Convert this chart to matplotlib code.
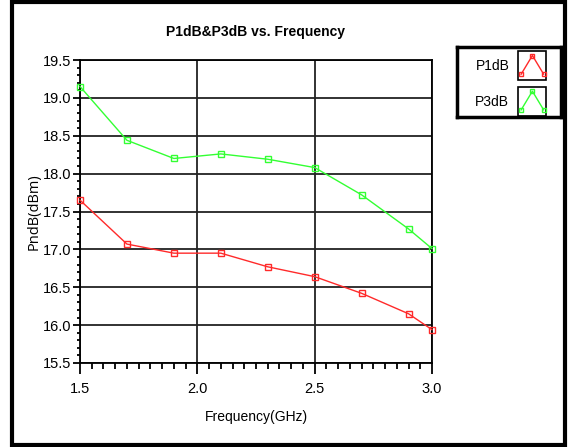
import numpy as np
import matplotlib
matplotlib.use('Agg')
import matplotlib.pyplot as plt
from matplotlib.patches import Rectangle
from matplotlib.ticker import MultipleLocator

# Data
freq = [1.5, 1.7, 1.9, 2.1, 2.3, 2.5, 2.7, 2.9, 3.0]
p1db = [17.65, 17.07, 16.95, 16.95, 16.77, 16.64, 16.42, 16.15, 15.94]
p3db = [19.15, 18.44, 18.20, 18.26, 18.19, 18.08, 17.72, 17.27, 17.01]
names = ['P1dB', 'P3dB']
colors = ['#ff2a2a', '#33ff33']
xticks = [1.5, 2.0, 2.5, 3.0]
yticks = [15.5, 16.0, 16.5, 17.0, 17.5, 18.0, 18.5, 19.0, 19.5]

plt.rcParams['font.family'] = ['Liberation Sans', 'DejaVu Sans']
fig = plt.figure(figsize=(5.69, 4.47), dpi=100)

# outer frame
fig.patches.append(Rectangle((12/569, 2/447), 553/569, 443/447, transform=fig.transFigure,
                             fill=False, edgecolor='black', linewidth=3))

ax = fig.add_axes([80/569, (447-363)/447, 352/569, 303/447])
for ys, c, n in zip([p1db, p3db], colors, names):
    ax.plot(freq, ys, color=c, linewidth=1, marker='s', markersize=4.5,
            markerfacecolor='none', markeredgecolor=c, markeredgewidth=1, label=n, clip_on=False, zorder=3)

ax.set_xlim(1.5, 3.0)
ax.set_ylim(15.5, 19.5)
ax.set_xticks(xticks)
ax.set_yticks(yticks)
ax.set_xticklabels(['%.1f' % v for v in xticks])
ax.set_yticklabels(['%.1f' % v for v in yticks])
ax.xaxis.set_minor_locator(MultipleLocator(0.05))
ax.yaxis.set_minor_locator(MultipleLocator(0.1))
ax.tick_params(axis='x', which='major', length=8, width=1.3, labelsize=10.5, pad=6)
ax.tick_params(axis='x', which='minor', length=4, width=1.3)
ax.tick_params(axis='y', which='major', length=5, width=1.3, labelsize=10.5, pad=1)
ax.tick_params(axis='y', which='minor', length=2, width=1.3)
ax.grid(True, which='major', color='#222222', linewidth=1.3)
for s in ax.spines.values():
    s.set_linewidth(1.3)

ax.set_title('P1dB&P3dB vs. Frequency', fontsize=10, fontweight='bold', pad=17)
ax.set_xlabel('Frequency(GHz)', fontsize=10, labelpad=10)
ax.set_ylabel('PndB(dBm)', fontsize=10.5, labelpad=1, family=['Open Sans', 'DejaVu Sans'])

# legend box drawn like the instrument style
lax = fig.add_axes([457/569, (447-117)/447, 104/569, 70/447])
lax.set_xlim(0, 1)
lax.set_ylim(0, 1)
lax.set_xticks([])
lax.set_yticks([])
for s in lax.spines.values():
    s.set_linewidth(2.5)
zig_x = [0.1, 0.5, 0.9]
zig_y = [0.2, 0.85, 0.2]
for i, (n, c) in enumerate(zip(names, colors)):
    y0 = 0.53 - i * 0.51
    lax.text(0.34, y0 + 0.2, n, fontsize=10, ha='center', va='center')
    lax.add_patch(Rectangle((0.59, y0 + 0.0), 0.27, 0.41, fill=False, edgecolor='black', linewidth=1.2))
    ix = [0.59 + 0.27 * v for v in zig_x]
    iy = [y0 + 0.41 * v for v in zig_y]
    lax.plot(ix, iy, color=c, linewidth=1, marker='s', markersize=3,
             markerfacecolor='none', markeredgecolor=c)

fig.savefig('out.png', dpi=100)
